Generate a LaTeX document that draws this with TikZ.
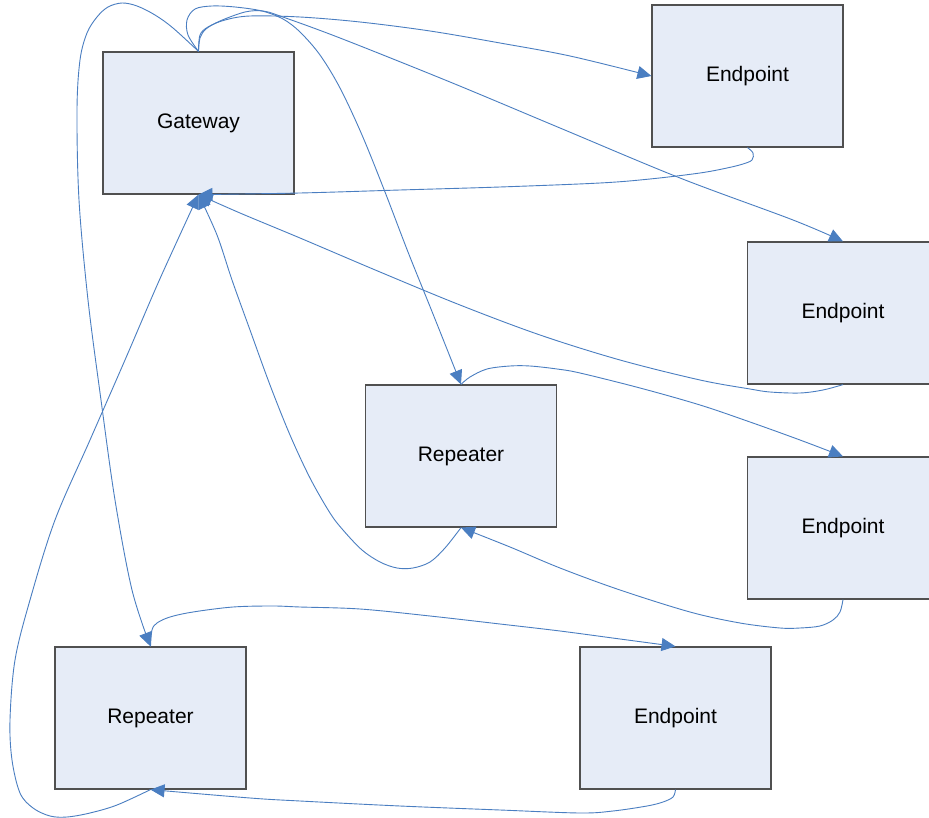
\documentclass[tikz,border=0pt]{standalone}
\usepackage{fontspec}
\setmainfont{Liberation Sans}
\usetikzlibrary{arrows.meta}
\definecolor{boxfill}{RGB}{230,236,247}
\definecolor{boxline}{RGB}{80,80,80}
\definecolor{connblue}{RGB}{74,126,193}
\begin{document}
\begin{tikzpicture}[x=1pt,y=-1pt,
  box/.style={draw=boxline, line width=1.2pt, fill=boxfill, minimum width=191pt, minimum height=142pt, inner sep=0pt, font=\fontsize{21}{25}\selectfont},
  conn/.style={draw=connblue, line width=0.9pt, -{Triangle[length=14pt,width=13pt]}, line join=round}]
\clip (0,0) rectangle (929,818);
\fill[white] (0,0) rectangle (929,818);
\node[box] (G)  at (198.5,123) {Gateway};
\node[box] (E1) at (747.5,76)  {Endpoint};
\node[box] (E2) at (843,313)   {Endpoint};
\node[box] (R1) at (461,456)   {Repeater};
\node[box] (E3) at (843,528)   {Endpoint};
\node[box] (R2) at (150.5,718) {Repeater};
\node[box] (E4) at (675.5,718) {Endpoint};
% Gateway -> Repeater (left)
\draw[conn] plot[smooth, tension=0.55] coordinates {(G.north) (173,28) (155,15) (137,6) (122,3) (108,7) (97,17) (87,33) (80,60) (77,110) (79,200) (88,300) (101,400) (115,500) (132,590) (R2.north)};
% Gateway -> Repeater (centre)
\draw[conn] plot[smooth, tension=0.55] coordinates {(G.north) (188,35) (187,20) (195,9) (212,6) (235,7) (262,11) (283,19) (300,32) (320,55) (340,88) (362,135) (385,192) (408,252) (433,314) (R1.north)};
% Gateway -> Endpoint 1
\draw[conn] plot[smooth, tension=0.55] coordinates {(G.north) (200,35) (208,27) (225,20) (250,16) (300,17) (360,22) (430,31) (500,43) (570,56) (E1.west)};
% Gateway -> Endpoint 2
\draw[conn] plot[smooth, tension=0.55] coordinates {(G.north) (200,38) (206,29) (220,21) (245,12) (263,11) (280,16) (340,38) (450,82) (560,128) (680,178) (793,220) (E2.north)};
% Endpoint 1 -> Gateway
\draw[conn] plot[smooth, tension=0.55] coordinates {(E1.south) (753,153) (752,160) (743,164) (727,168) (700,173) (650,179) (600,183) (500,187) (400,190) (300,193) (G.south)};
% Endpoint 2 -> Gateway
\draw[conn] plot[smooth, tension=0.55] coordinates {(E2.south) (823,390) (800,393) (770,392) (750,389) (700,380) (620,360) (540,335) (460,305) (380,272) (300,238) (240,213) (G.south)};
% Repeater (centre) -> Gateway
\draw[conn] plot[smooth, tension=0.55] coordinates {(R1.south) (445,548) (430,562) (413,568) (397,568) (380,562) (362,550) (343,530) (330,513) (310,478) (290,435) (270,385) (250,330) (232,280) (217,235) (G.south)};
% Repeater (left) -> Gateway
\draw[conn] plot[smooth, tension=0.55] coordinates {(R2.south) (117,805) (90,813) (67,817) (50,816) (33,808) (20,793) (12,760) (10,720) (15,660) (30,600) (55,520) (90,440) (125,360) (155,290) (173,250) (G.south)};
% Repeater (centre) -> Endpoint 3
\draw[conn] plot[smooth, tension=0.55] coordinates {(R1.north) (470,377) (487,369) (510,366) (530,366) (557,369) (580,373) (640,388) (700,405) (750,422) (800,440) (E3.north)};
% Endpoint 3 -> Repeater (centre)
\draw[conn] plot[smooth, tension=0.55] coordinates {(E3.south) (840,612) (833,620) (820,626) (800,628) (780,628) (740,623) (690,612) (620,590) (560,568) (510,547) (R1.south)};
% Repeater (left) -> Endpoint 4
\draw[conn] plot[smooth, tension=0.55] coordinates {(R2.north) (152,630) (157,623) (170,617) (193,612) (233,607) (273,606) (300,607) (360,609) (430,616) (500,624) (560,631) (620,639) (E4.north)};
% Endpoint 4 -> Repeater (left)
\draw[conn] plot[smooth, tension=0.55] coordinates {(E4.south) (673,797) (663,802) (647,806) (613,811) (580,813) (500,810) (400,806) (300,801) (250,798) (R2.south)};
\end{tikzpicture}
\end{document}
